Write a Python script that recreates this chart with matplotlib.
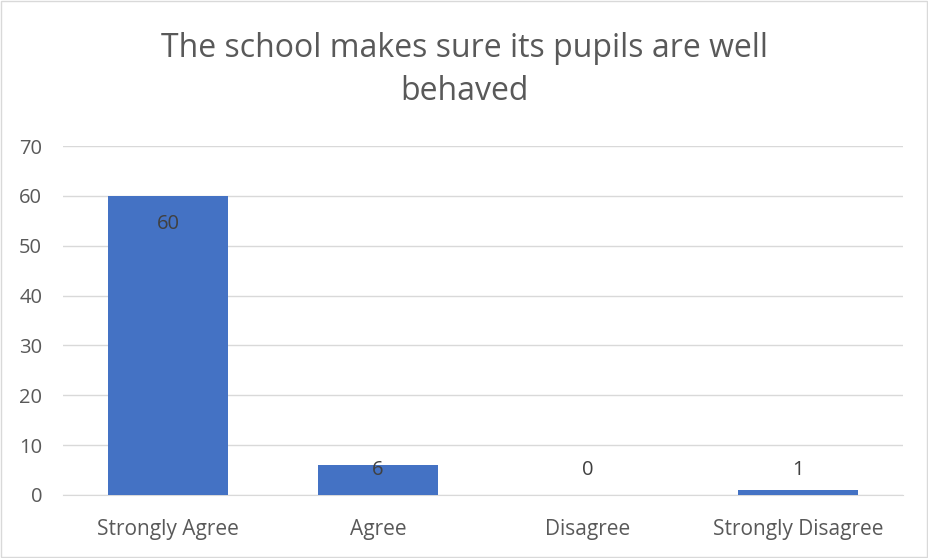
import matplotlib.pyplot as plt
from matplotlib.patches import Rectangle

categories = ["Strongly Agree", "Agree", "Disagree", "Strongly Disagree"]
values = [60, 6, 0, 1]
label_pos = [54.4, 5.0, 5.0, 5.0]  # where Excel put the data labels

plt.rcParams['font.family'] = ['Open Sans', 'DejaVu Sans']

fig = plt.figure(figsize=(9.29, 5.58), dpi=100)
# plot area in pixels: x 63..903, y 146..495
ax = fig.add_axes([63 / 929, 1 - 495 / 558, 840 / 929, 349 / 558])

x = range(len(categories))
ax.bar(x, values, width=0.571, color="#4472C4", zorder=3)
for i, v in enumerate(values):
    ax.text(i, label_pos[i], str(v), ha="center", va="center",
            fontsize=14.5, color="#404040", zorder=4)

ax.set_xlim(-0.5, len(categories) - 0.5)
ax.set_ylim(0, 70)
ax.set_yticks(range(0, 71, 10))
ax.set_xticks(list(x))
ax.set_xticklabels(categories, fontsize=15)
ax.tick_params(axis="both", length=0, labelcolor="#595959")
ax.tick_params(axis="y", pad=15, labelsize=14.5)
ax.tick_params(axis="x", pad=17)
ax.grid(axis="y", color="#D9D9D9", linewidth=1, zorder=0)
for s in ["top", "right", "left"]:
    ax.spines[s].set_visible(False)
ax.spines["bottom"].set_color("#D9D9D9")
ax.spines["bottom"].set_zorder(2)

fig.text(0.5, 1 - 70 / 558, "The school makes sure its pupils are well\nbehaved",
         ha="center", va="center", fontsize=23, color="#595959", linespacing=1.4)

fig.patches.append(Rectangle((0.001, 0.002), 0.997, 0.996, transform=fig.transFigure,
                             fill=False, edgecolor="#D9D9D9", linewidth=1))

fig.savefig("out.png", dpi=100)
